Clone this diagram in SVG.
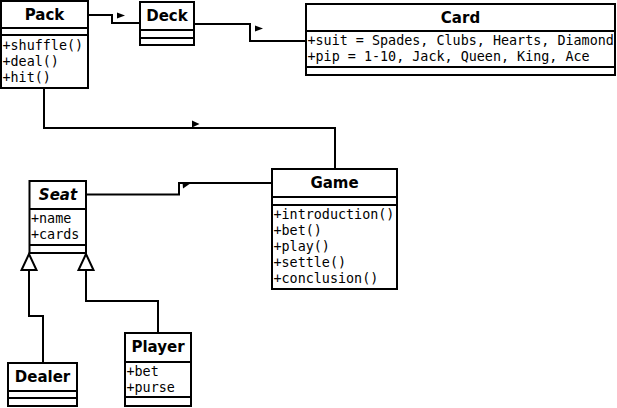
<svg xmlns="http://www.w3.org/2000/svg" width="617" height="408" viewBox="0 0 617 408">
<style>
.box{fill:#fff;stroke:#000;stroke-width:2}
.ln{fill:none;stroke:#000;stroke-width:2}
.hd{font-family:"DejaVu Sans",sans-serif;font-weight:bold;font-size:15px;text-anchor:middle;fill:#000}
.it{font-style:italic}
.mb{font-family:"DejaVu Sans Mono",monospace;font-size:13.4px;fill:#000}
.arr{fill:#000;stroke:none}
.gen{fill:#fff;stroke:#000;stroke-width:2}
</style>
<defs>
<clipPath id="cardclip"><rect x="307" y="5" width="307" height="69"/></clipPath>
</defs>
<rect width="617" height="408" fill="#fff"/>
<g id="connectors">
<polyline class="ln" points="88,15 112,15 112,23 140,23"/>
<polygon class="arr" points="117,12.5 125,15.5 117,18.5"/>
<polyline class="ln" points="194,24 250,24 250,41 306,41"/>
<polygon class="arr" points="255,25.5 263,28.5 255,31.5"/>
<polyline class="ln" points="44,88 44,128 335,128 335,169"/>
<polygon class="arr" points="192,120.5 199.5,124 192,127.5"/>
<polyline class="ln" points="86,194.5 179,194.5 179,183 272,183"/>
<polygon class="arr" points="182.5,182 191,183 183,188.5"/>
<polyline class="ln" points="29,270 29,316 43,316 43,363"/>
<polyline class="ln" points="86,270 86,301 158,301 158,333"/>
<polygon class="gen" points="29,254 21.5,270 36.5,270"/>
<polygon class="gen" points="86,254 78.5,270 93.5,270"/>
</g>
<g id="pack">
<rect class="box" x="1" y="1" width="87" height="87"/>
<line class="ln" x1="1" y1="28" x2="88" y2="28"/>
<line class="ln" x1="1" y1="35" x2="88" y2="35"/>
<text class="hd" x="44.5" y="20">Pack</text>
<text class="mb" x="2.5" y="50">+shuffle()</text>
<text class="mb" x="2.5" y="66">+deal()</text>
<text class="mb" x="2.5" y="82">+hit()</text>
</g>
<g id="deck">
<rect class="box" x="140" y="2" width="54" height="43"/>
<line class="ln" x1="140" y1="30" x2="194" y2="30"/>
<line class="ln" x1="140" y1="38" x2="194" y2="38"/>
<text class="hd" x="167" y="21">Deck</text>
</g>
<g id="card">
<rect class="box" x="306" y="4" width="309" height="71"/>
<line class="ln" x1="306" y1="31" x2="615" y2="31"/>
<line class="ln" x1="306" y1="67" x2="615" y2="67"/>
<text class="hd" x="460.5" y="23">Card</text>
<g clip-path="url(#cardclip)">
<text class="mb" x="307.5" y="45">+suit = Spades, Clubs, Hearts, Diamonds</text>
<text class="mb" x="307.5" y="61">+pip = 1-10, Jack, Queen, King, Ace</text>
</g>
</g>
<g id="game">
<rect class="box" x="272" y="169" width="125" height="120"/>
<line class="ln" x1="272" y1="197" x2="397" y2="197"/>
<line class="ln" x1="272" y1="205" x2="397" y2="205"/>
<text class="hd" x="334.5" y="188">Game</text>
<text class="mb" x="273.5" y="219">+introduction()</text>
<text class="mb" x="273.5" y="235">+bet()</text>
<text class="mb" x="273.5" y="251">+play()</text>
<text class="mb" x="273.5" y="267">+settle()</text>
<text class="mb" x="273.5" y="283">+conclusion()</text>
</g>
<g id="seat">
<rect class="box" x="29.5" y="181" width="56.5" height="72"/>
<line class="ln" x1="29.5" y1="209" x2="86" y2="209"/>
<line class="ln" x1="29.5" y1="245" x2="86" y2="245"/>
<text class="hd it" x="58" y="200">Seat</text>
<text class="mb" x="31" y="223">+name</text>
<text class="mb" x="31" y="239">+cards</text>
</g>
<g id="dealer">
<rect class="box" x="8" y="363" width="69" height="43"/>
<line class="ln" x1="8" y1="391" x2="77" y2="391"/>
<line class="ln" x1="8" y1="398" x2="77" y2="398"/>
<text class="hd" x="42.5" y="382">Dealer</text>
</g>
<g id="player">
<rect class="box" x="125" y="333" width="66" height="73"/>
<line class="ln" x1="125" y1="362" x2="191" y2="362"/>
<line class="ln" x1="125" y1="397" x2="191" y2="397"/>
<text class="hd" x="158" y="352">Player</text>
<text class="mb" x="126.5" y="376">+bet</text>
<text class="mb" x="126.5" y="392">+purse</text>
</g>
</svg>
